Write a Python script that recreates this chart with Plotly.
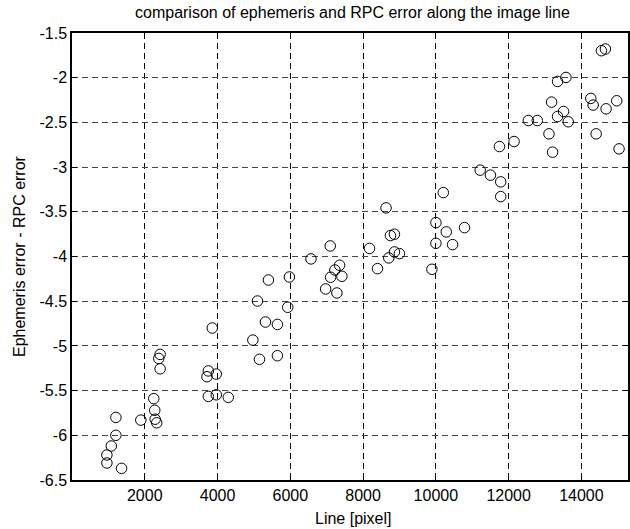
import plotly.graph_objects as go

line_px = [959, 959, 1079, 1206, 1206, 1362, 1891, 2247, 2274, 2285, 2329, 2422, 2384, 2422,
           3855, 3746, 3710, 3965, 3746, 3965, 4294, 4970, 5097, 5152, 5316, 5398, 5645, 5645,
           5929, 5974, 6568, 6970, 7280, 7107, 7225, 7354, 7417, 7097, 8176, 8395, 8631, 8751,
           8861, 8705, 8861, 8998, 9891, 10001, 10286, 10787, 10001, 10459, 10204, 11218, 11500,
           11782, 11782, 11747, 12149, 12541, 12788, 13108, 13207, 13180, 13344, 13509, 13637,
           13344, 13574, 14549, 14659, 14258, 14322, 14678, 14971, 14405, 15034]
err_diff = [-6.22, -6.31, -6.12, -6.00, -5.80, -6.37, -5.83, -5.59, -5.72, -5.82, -5.86, -5.095,
            -5.14, -5.256, -4.80, -5.28, -5.345, -5.315, -5.565, -5.547, -5.576, -4.935, -4.498,
            -5.15, -4.733, -4.263, -4.76, -5.11, -4.568, -4.229, -4.027, -4.363, -4.408, -4.232,
            -4.151, -4.098, -4.221, -3.882, -3.91, -4.136, -3.456, -3.766, -3.751, -4.016, -3.949,
            -3.968, -4.143, -3.621, -3.725, -3.677, -3.852, -3.867, -3.285, -3.034, -3.09, -3.165,
            -3.33, -2.77, -2.714, -2.479, -2.479, -2.628, -2.833, -2.273, -2.434, -2.378, -2.493,
            -2.042, -1.997, -1.698, -1.679, -2.232, -2.306, -2.348, -2.258, -2.628, -2.796]

x_tickvals = [2000, 4000, 6000, 8000, 10000, 12000, 14000]
x_ticktext = ["2000", "4000", "6000", "8000", "10000", "12000", "14000"]
y_tickvals = [-1.5, -2, -2.5, -3, -3.5, -4, -4.5, -5, -5.5, -6, -6.5]
y_ticktext = ["-1.5", "-2", "-2.5", "-3", "-3.5", "-4", "-4.5", "-5", "-5.5", "-6", "-6.5"]

title_text = "comparison of ephemeris and RPC error along the image line"
x_title = "Line [pixel]"
y_title = "Ephemeris error - RPC error"

FONT = "Liberation Sans, Arial, sans-serif"
FS = 16

fig = go.Figure()
fig.add_trace(go.Scatter(
    x=line_px, y=err_diff, mode="markers",
    marker=dict(symbol="circle-open", size=10.5, color="black", line=dict(width=1, color="black")),
    showlegend=False,
))

W, H = 630, 529
ml, mt, mb, mr = 72.3, 33.3, 49.3, 0
pw = W - ml - mr

def xpaper(px):
    return (px - ml) / pw

fig.update_layout(
    width=W, height=H,
    margin=dict(l=ml, r=mr, t=mt, b=mb, pad=0),
    paper_bgcolor="white", plot_bgcolor="white",
    font=dict(family=FONT, size=FS, color="black"),
    xaxis=dict(
        range=[0, 15280], tickvals=x_tickvals, ticktext=x_ticktext,
        showgrid=True, gridcolor="black", gridwidth=1, griddash="6px,4px",
        showline=True, linecolor="black", linewidth=1.5, mirror="ticks",
        ticks="inside", ticklen=5, tickcolor="black", zeroline=False,
        tickfont=dict(family=FONT, size=FS, color="black"),
    ),
    yaxis=dict(
        range=[-6.5, -1.5], tickvals=y_tickvals, ticktext=y_ticktext,
        showgrid=True, gridcolor="#444444", gridwidth=1, griddash="6px,4px",
        showline=True, linecolor="black", linewidth=1.5, mirror="ticks",
        ticks="inside", ticklen=5, tickcolor="black", zeroline=False,
        tickfont=dict(family=FONT, size=FS, color="black"),
    ),
    annotations=[
        dict(text=title_text, xref="paper", yref="paper", x=xpaper(354), y=1,
             yshift=10, xanchor="center", yanchor="bottom", showarrow=False,
             font=dict(family=FONT, size=FS, color="black")),
        dict(text=x_title, xref="paper", yref="paper", x=xpaper(355), y=0,
             yshift=-28, xanchor="center", yanchor="top", showarrow=False,
             font=dict(family=FONT, size=FS, color="black")),
        dict(text=y_title, xref="paper", yref="paper", x=0, y=0.5,
             xshift=-42, xanchor="right", yanchor="middle", textangle=-90, showarrow=False,
             font=dict(family=FONT, size=FS, color="black")),
    ],
)

fig.write_html("out.html")
